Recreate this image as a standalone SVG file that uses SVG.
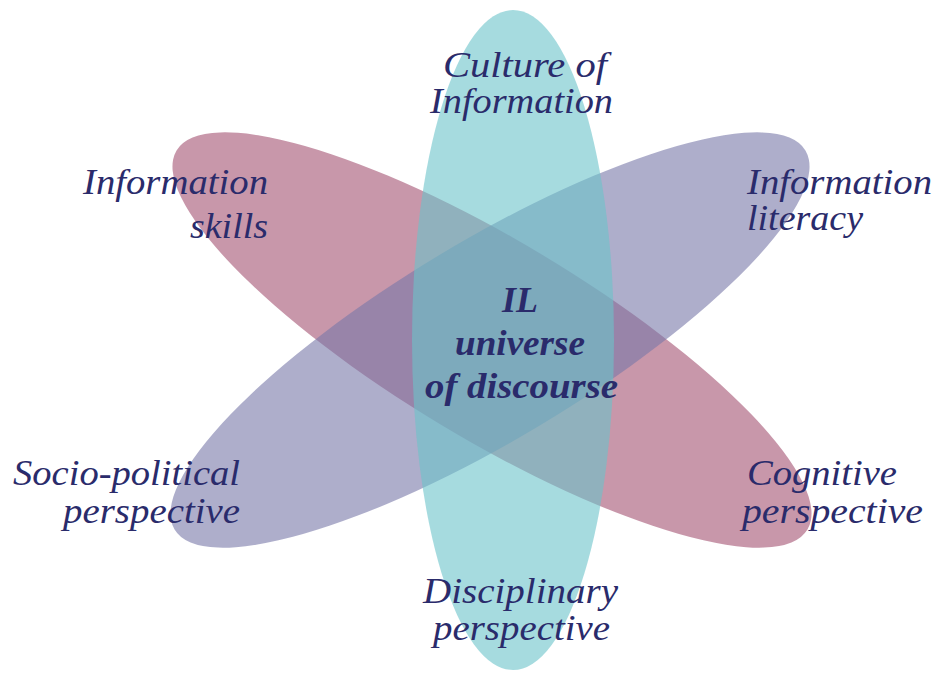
<svg xmlns="http://www.w3.org/2000/svg" width="937" height="673" viewBox="0 0 937 673">
  <style>
    .lbl { font-family: "Liberation Serif", "Times New Roman", serif; font-style: italic; font-size: 35px; fill: #2A2B6B; }
    .ctr { font-weight: bold; }
    .pink { fill: #A35271; fill-opacity: 0.6; }
    .purple { fill: #7878A8; fill-opacity: 0.6; }
    .teal { fill: #6BC3CA; fill-opacity: 0.6; }
  </style>
  <rect width="937" height="673" fill="#FFFFFF"/>
  <g id="connectors"/>
  <g id="node-pink">
    <ellipse class="pink" cx="492" cy="340" rx="368" ry="99" transform="rotate(31 492 340)"/>
    <text class="lbl" x="83" y="194" textLength="185" lengthAdjust="spacingAndGlyphs">Information</text>
    <text class="lbl" x="190" y="238" textLength="78" lengthAdjust="spacingAndGlyphs">skills</text>
    <text class="lbl" x="747" y="485" textLength="150" lengthAdjust="spacingAndGlyphs">Cognitive</text>
    <text class="lbl" x="742" y="523" textLength="181" lengthAdjust="spacingAndGlyphs">perspective</text>
  </g>
  <g id="node-purple">
    <ellipse class="purple" cx="490" cy="340" rx="368" ry="99" transform="rotate(-31 490 340)"/>
    <text class="lbl" x="747" y="194" textLength="185" lengthAdjust="spacingAndGlyphs">Information</text>
    <text class="lbl" x="747" y="230" textLength="116" lengthAdjust="spacingAndGlyphs">literacy</text>
    <text class="lbl" x="13" y="485" textLength="227" lengthAdjust="spacingAndGlyphs">Socio-political</text>
    <text class="lbl" x="63" y="523" textLength="177" lengthAdjust="spacingAndGlyphs">perspective</text>
  </g>
  <g id="node-teal">
    <ellipse class="teal" cx="513" cy="340" rx="101" ry="330"/>
    <text class="lbl" x="443" y="77" textLength="164" lengthAdjust="spacingAndGlyphs">Culture of</text>
    <text class="lbl" x="430" y="113" textLength="183" lengthAdjust="spacingAndGlyphs">Information</text>
    <text class="lbl" x="423" y="603" textLength="195" lengthAdjust="spacingAndGlyphs">Disciplinary</text>
    <text class="lbl" x="433" y="640" textLength="177" lengthAdjust="spacingAndGlyphs">perspective</text>
  </g>
  <g id="node-center">
    <text class="lbl ctr" x="502" y="312" textLength="36" lengthAdjust="spacingAndGlyphs">IL</text>
    <text class="lbl ctr" x="455" y="355" textLength="130" lengthAdjust="spacingAndGlyphs">universe</text>
    <text class="lbl ctr" x="425" y="398" textLength="193" lengthAdjust="spacingAndGlyphs">of discourse</text>
  </g>
</svg>
